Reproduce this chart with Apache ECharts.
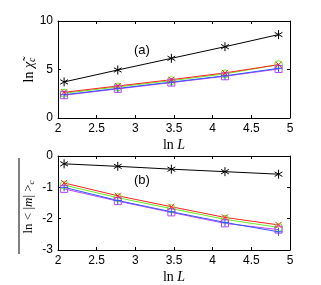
<!DOCTYPE html>
<html><head><meta charset="utf-8">
<script src="https://cdn.jsdelivr.net/npm/echarts@6/dist/echarts.min.js"></script>
<style>html,body{margin:0;padding:0;background:#fff}#c{width:321px;height:285px}</style>
</head><body><div id="c"></div>
<script>
var lnL = [2.079, 2.773, 3.466, 4.159, 4.852];
var xTicks = [2, 2.5, 3, 3.5, 4, 4.5, 5];
// panel (a): ln chi_c
var aBlack = [3.72, 4.95, 6.15, 7.35, 8.6];
var aRed = [2.65, 3.3, 3.95, 4.65, 5.5];
var aGreen = [2.55, 3.2, 3.85, 4.55, 5.5];
var aBlue = [2.4, 3.05, 3.7, 4.35, 5.12];
var aMag = [2.35, 3.0, 3.65, 4.3, 5.05];
// panel (b): ln <|m|>_c
var bBlack = [-0.25, -0.33, -0.42, -0.5, -0.58];
var bRed = [-0.86, -1.27, -1.62, -1.96, -2.2];
var bGreen = [-0.93, -1.33, -1.68, -2.02, -2.28];
var bBlue = [-1.0, -1.42, -1.78, -2.12, -2.42];
var bMag = [-1.05, -1.44, -1.8, -2.15, -2.35];

var STAR = 'path://M5,0L5,10M0.67,2.5L9.33,7.5M0.67,7.5L9.33,2.5';
var XMARK = 'path://M0,0L10,10M10,0L0,10';
var PLUS = 'path://M5,0L5,10M0,5L10,5';
var colors = {black:'#000000', red:'#ff2020', green:'#66ee22', blue:'#3355ff', mag:'#bb44ff'};

function pts(ys){ return lnL.map(function(x,i){return [x, ys[i]];}); }
function ser(idx, ys, col, sym, size){
  return {type:'line', xAxisIndex:idx, yAxisIndex:idx, data:pts(ys), symbol:sym, symbolSize:size,
    showAllSymbol:true, silent:true, animation:false, symbolKeepAspect:true,
    lineStyle:{color:col, width:1},
    itemStyle:{color:'rgba(0,0,0,0)', borderColor: col, borderWidth:1}
  };
}
function xAx(idx, show){
  return {type:'value', gridIndex:idx, min:2, max:5, interval:0.5,
    axisLine:{show:true, onZero:false, lineStyle:{color:'#000'}},
    axisTick:{show:true, inside:true, length:3, lineStyle:{color:'#000'}},
    axisLabel:{show:show, margin:5, color:'#000', fontSize:12, fontFamily:'Liberation Sans, Arial'},
    splitLine:{show:false},
    name: show ? 'ln {i|L}' : '', nameLocation:'middle', nameGap:20,
    nameTextStyle:{color:'#000', fontSize:14, fontFamily:'Liberation Serif, Times New Roman',
      rich:{i:{fontStyle:'italic', fontSize:14, fontFamily:'Liberation Serif'}}}
  };
}
var opt = {
  animation:false,
  grid:[{left:58, top:21, width:232, height:97, show:false},
        {left:58, top:156, width:232, height:98, show:false}],
  xAxis:[
    xAx(0,true), xAx(1,true),
    Object.assign(xAx(0,false), {position:'top'}),
    Object.assign(xAx(1,false), {position:'top'})
  ],
  yAxis:[
    {type:'value', gridIndex:0, min:0, max:10, interval:5},
    {type:'value', gridIndex:1, min:-3, max:0, interval:1},
    {type:'value', gridIndex:0, min:0, max:10, interval:5, position:'right'},
    {type:'value', gridIndex:1, min:-3, max:0, interval:1, position:'right'}
  ].map(function(a,i){
    a.axisLine = {show:true, onZero:false, lineStyle:{color:'#000'}};
    a.axisTick = {show:true, inside:true, length:3, lineStyle:{color:'#000'}};
    a.axisLabel = {show:i<2, margin:5, color:'#000', fontSize:12, fontFamily:'Liberation Sans, Arial'};
    a.splitLine = {show:false};
    return a;
  }),
  series:[
    ser(0, aGreen, colors.green, 'circle', 8),
    ser(0, aMag, colors.mag, 'rect', 7),
    ser(0, aBlue, colors.blue, PLUS, 8),
    ser(0, aRed, colors.red, XMARK, 6),
    ser(0, aBlack, colors.black, STAR, 9),
    ser(1, bGreen, colors.green, 'circle', 8),
    ser(1, bMag, colors.mag, 'rect', 7),
    ser(1, bBlue, colors.blue, PLUS, 8),
    ser(1, bRed, colors.red, XMARK, 6),
    ser(1, bBlack, colors.black, STAR, 9)
  ],
  graphic:[
    {type:'text', left:134, top:44, style:{text:'(a)', font:'13px Liberation Sans, Arial', fill:'#000'}},
    {type:'text', left:134, top:174, style:{text:'(b)', font:'13px Liberation Sans, Arial', fill:'#000'}},
    {type:'text', x:29, y:70, rotation:Math.PI/2,
      style:{text:'ln {c|χ̃}{s|c}', align:'center', verticalAlign:'middle', fill:'#000',
        font:'14px Liberation Serif, Times New Roman',
        rich:{c:{fontStyle:'italic', fontSize:14, fontFamily:'Liberation Serif'}, s:{fontStyle:'italic', fontSize:10, fontFamily:'Liberation Serif', padding:[6,0,0,0]}}}},
    {type:'text', x:29, y:207, rotation:Math.PI/2,
      style:{text:'ln < |{c|m}| >{s|c}', align:'center', verticalAlign:'middle', fill:'#000',
        font:'13px Liberation Serif, Times New Roman',
        rich:{c:{fontStyle:'italic', fontSize:13, fontFamily:'Liberation Serif'}, s:{fontStyle:'italic', fontSize:9, fontFamily:'Liberation Serif', padding:[6,0,0,0]}}}},
    {type:'line', shape:{x1:19, y1:158, x2:19, y2:254}, style:{stroke:'#000', lineWidth:1}}
  ]
};
var ch = echarts.init(document.getElementById('c'), null, {renderer:'canvas'});
ch.setOption(opt);
</script></body></html>
